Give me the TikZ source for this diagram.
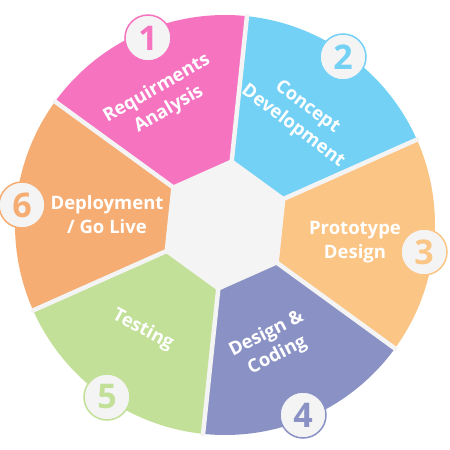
\documentclass[tikz,border=0pt]{standalone}
\usepackage{fontspec}
\setmainfont{Open Sans}
\definecolor{pinkc}{HTML}{F673C0}
\definecolor{bluec}{HTML}{72D1F5}
\definecolor{peachc}{HTML}{FBC585}
\definecolor{purplec}{HTML}{8A92C5}
\definecolor{greenc}{HTML}{C2E097}
\definecolor{orangec}{HTML}{F5AD73}
\definecolor{gapc}{HTML}{F4F4F4}
\tikzset{
  numc/.style={circle, fill=gapc, line width=1.5pt, minimum size=46pt, inner sep=0pt,
    font=\fontsize{34}{34}\selectfont\bfseries},
  lab/.style={align=center, text=white, inner sep=0pt,
    font=\fontsize{18.5}{24}\selectfont\bfseries},
  gapline/.style={draw=gapc, line width=4.5pt}
}
\begin{document}
\begin{tikzpicture}[x=1pt,y=1pt]
\useasboundingbox (-225,-225) rectangle (225,225);
\fill[white] (-225,-225) rectangle (225,225);
% segments
\foreach \a/\c in {84/pinkc, 24/bluec, -36/peachc, -96/purplec, -156/greenc, 144/orangec}{
  \fill[\c] (0,0) -- (\a:210) arc[start angle=\a, end angle=\a+60, radius=210] -- cycle;
}
% gaps
\foreach \a in {24,84,144,204,264,324}{
  \draw[gapline] (0,0) -- (\a:212);
}
% centre hexagon
\filldraw[fill=gapc, draw=gapc, line width=4pt, line join=miter]
  (24:64) -- (84:64) -- (144:64) -- (204:64) -- (264:64) -- (324:64) -- cycle;
% labels
\node[lab, rotate=30] (t1) at (-62,126) {Requirments\\Analysis};
\node[lab, rotate=-37] (t2) at (75,108) {Concept\\Development};
\node[lab] (t3) at (130,-17) {Prototype\\Design};
\node[lab, rotate=27] (t4) at (47,-120) {Design \&\\Coding};
\node[lab, rotate=-28] (t5) at (-82,-105) {Testing};
\node[lab] (t6) at (-118,10) {Deployment\\/ Go Live};
% numbers
\node[numc, draw=pinkc, text=pinkc] (n1) at (-77,187) {1};
\node[numc, draw=bluec, text=bluec] (n2) at (118,168) {2};
\node[numc, draw=peachc, text=peachc] (n3) at (199,-27) {3};
\node[numc, draw=purplec, text=purplec] (n4) at (78,-190) {4};
\node[numc, draw=greenc, text=greenc] (n5) at (-118,-172) {5};
\node[numc, draw=orangec, text=orangec] (n6) at (-203,20) {6};
\end{tikzpicture}
\end{document}
